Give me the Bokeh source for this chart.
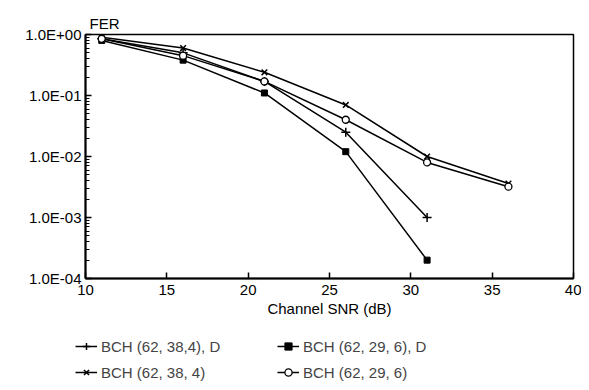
from bokeh.plotting import figure
from bokeh.layouts import column
from bokeh.models import (Legend, LegendItem, CustomJSTickFormatter, Title,
                          FixedTicker, LogTicker)
from bokeh.embed import file_html
from bokeh.resources import INLINE

# ---- data ----
snr_d = [11, 16, 21, 26, 31]
snr = [11, 16, 21, 26, 31, 36]
fer_38_4_d = [0.85, 0.50, 0.17, 0.025, 0.001]
fer_29_6_d = [0.80, 0.38, 0.11, 0.012, 0.0002]
fer_38_4 = [0.90, 0.60, 0.24, 0.07, 0.010, 0.0036]
fer_29_6 = [0.85, 0.45, 0.17, 0.040, 0.008, 0.0032]
labels = ["BCH (62, 38,4), D", "BCH (62, 29, 6), D",
          "BCH (62, 38, 4)", "BCH (62, 29, 6)"]
x_ticks = [10, 15, 20, 25, 30, 35, 40]

FONT = "Liberation Sans"

p = figure(width=581, height=326, x_range=(10, 40), y_range=(1e-4, 1),
           y_axis_type="log", output_backend="svg", toolbar_location=None,
           min_border_left=85, min_border_right=8, min_border_top=34,
           min_border_bottom=48)
p.grid.visible = False
p.outline_line_color = "black"
p.outline_line_width = 1.5
p.background_fill_color = "white"
p.border_fill_color = "white"

# axes
p.xaxis.ticker = FixedTicker(ticks=x_ticks)
p.xaxis.axis_label = "Channel SNR (dB)"
p.yaxis.ticker = LogTicker(num_minor_ticks=10)
p.yaxis.formatter = CustomJSTickFormatter(code="""
const e = Math.round(Math.log10(tick));
const s = e < 0 ? '-' : '+';
return '1.0E' + s + String(Math.abs(e)).padStart(2, '0');
""")
for ax in (p.xaxis[0], p.yaxis[0]):
    ax.axis_line_color = "black"
    ax.axis_line_width = 2
    ax.major_tick_in = 6
    ax.major_tick_out = 0
    ax.major_tick_line_color = "black"
    ax.major_tick_line_width = 1.5
    ax.major_label_text_font = FONT
    ax.major_label_text_font_size = "15px"
    ax.major_label_text_color = "black"
    ax.axis_label_text_font = FONT
    ax.axis_label_text_font_size = "15px"
    ax.axis_label_text_font_style = "normal"
    ax.axis_label_text_color = "black"
p.xaxis.minor_tick_line_color = None
p.xaxis.major_label_standoff = 6
p.xaxis.axis_label_standoff = 2
p.yaxis.minor_tick_in = 4
p.yaxis.minor_tick_out = 0
p.yaxis.minor_tick_line_color = "black"
p.yaxis.major_label_standoff = 4

p.add_layout(Title(text="FER", align="left", offset=4, text_font=FONT,
                   text_font_size="15px", text_font_style="normal",
                   text_color="black", standoff=6), "above")

# series
styles = [
    dict(marker="cross", size=9, line_color="black", line_width=1.5),
    dict(marker="square", size=6, line_color="black", fill_color="black"),
    dict(marker="x", size=8, line_color="black", line_width=1.5),
    dict(marker="circle", size=7, line_color="black", fill_color="white",
         line_width=1.3),
]
series = [(snr_d, fer_38_4_d), (snr_d, fer_29_6_d), (snr, fer_38_4),
          (snr, fer_29_6)]
for (xs, ys), st in zip(series, styles):
    p.line(xs, ys, line_color="black", line_width=1.5)
    p.scatter(xs, ys, **st)

# legend figure below the chart (its own series copies lie outside its ranges)
lf = figure(width=581, height=56, output_backend="svg", toolbar_location=None,
            min_border_left=0, min_border_right=0, min_border_top=0,
            min_border_bottom=0, x_range=(100, 101), y_range=(100, 101))
lf.axis.visible = False
lf.grid.visible = False
lf.outline_line_color = None
items = []
for (xs, ys), st in zip(series, styles):
    lr = lf.line(xs, ys, line_color="black", line_width=1.5)
    mr = lf.scatter(xs, ys, **st)
    items.append([lr, mr])

common = dict(orientation="horizontal", border_line_color=None,
              background_fill_alpha=0, label_text_font=FONT,
              label_text_font_size="15px", label_width=170, glyph_width=22,
              label_standoff=4, spacing=6, padding=0, margin=0,
              label_height=18, glyph_height=18)
leg1 = Legend(items=[LegendItem(label=labels[0], renderers=items[0]),
                     LegendItem(label=labels[1], renderers=items[1])],
              location=(75, 27), **common)
leg2 = Legend(items=[LegendItem(label=labels[2], renderers=items[2]),
                     LegendItem(label=labels[3], renderers=items[3])],
              location=(75, 1), **common)
lf.add_layout(leg1, "center")
lf.add_layout(leg2, "center")

layout = column(p, column(lf, spacing=0), spacing=0)
open("out.html", "w").write(file_html(layout, INLINE))
